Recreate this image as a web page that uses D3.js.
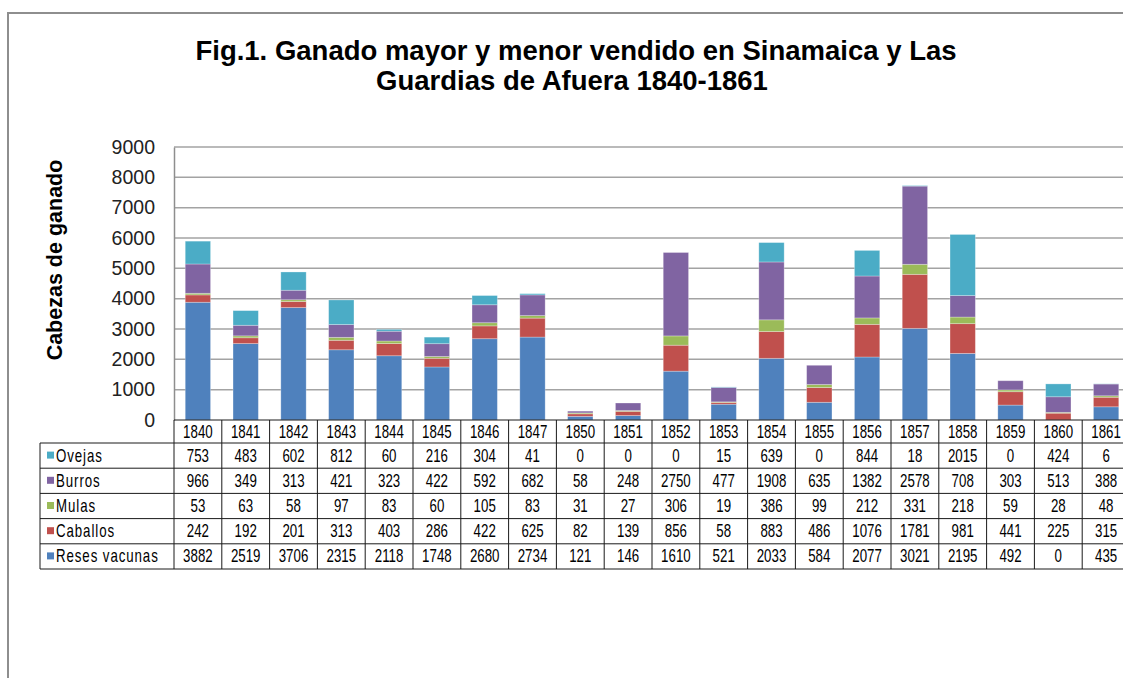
<!DOCTYPE html>
<html>
<head>
<meta charset="utf-8">
<style>
body { margin: 0; background: #fff; }
#chart { display: block; }
text { font-family: "Liberation Sans", Arial, sans-serif; }
</style>
</head>
<body>
<svg id="chart" width="1123" height="678"></svg>
<script src="https://cdn.jsdelivr.net/npm/d3@7"></script>
<script>
// data
const years = ["1840","1841","1842","1843","1844","1845","1846","1847","1850","1851","1852","1853","1854","1855","1856","1857","1858","1859","1860","1861"];
const reses    = [3882,2519,3706,2315,2118,1748,2680,2734,121,146,1610,521,2033,584,2077,3021,2195,492,0,435];
const caballos = [242,192,201,313,403,286,422,625,82,139,856,58,883,486,1076,1781,981,441,225,315];
const mulas    = [53,63,58,97,83,60,105,83,31,27,306,19,386,99,212,331,218,59,28,48];
const burros   = [966,349,313,421,323,422,592,682,58,248,2750,477,1908,635,1382,2578,708,303,513,388];
const ovejas   = [753,483,602,812,60,216,304,41,0,0,0,15,639,0,844,18,2015,0,424,6];
const yTicks = [0,1000,2000,3000,4000,5000,6000,7000,8000,9000];

const series = [
    {key: "reses", name: "Reses vacunas", values: reses, color: "#4f81bd"},
    {key: "caballos", name: "Caballos", values: caballos, color: "#c0504d"},
    {key: "mulas", name: "Mulas", values: mulas, color: "#9bbb59"},
    {key: "burros", name: "Burros", values: burros, color: "#8064a2"},
    {key: "ovejas", name: "Ovejas", values: ovejas, color: "#4bacc6"}
];

const svg = d3.select("#chart");
const plotLeft = 174, plotRight = 1130, plotTop = 147, plotBottom = 420;
const tableLeft = 40, headerH = 23, rowH = 25.2;
const cellFont = "17.5px", squeeze = 0.76;

// outer frame (top and left edges visible)
svg.append("path")
    .attr("d", "M8,678 V13 H1123")
    .style("fill", "none")
    .style("stroke", "#8e8e8e")
    .style("stroke-width", 2);

// title
const title = svg.append("text")
    .attr("x", 576)
    .attr("y", 60)
    .attr("text-anchor", "middle")
    .attr("font-size", "27.5px")
    .attr("font-weight", "bold");
title.append("tspan").attr("x", 576).text("Fig.1. Ganado mayor y menor vendido en Sinamaica y Las");
title.append("tspan").attr("x", 572).attr("dy", 30).text("Guardias de Afuera 1840-1861");

const x = d3.scaleBand()
    .domain(years)
    .range([plotLeft, plotRight])
    .paddingInner(0.47)
    .paddingOuter(0.235);

const y = d3.scaleLinear()
    .domain([0, 9000])
    .range([plotBottom, plotTop]);

// gridlines
svg.append("g")
    .selectAll("line")
    .data(yTicks.slice(1))
    .enter()
    .append("line")
    .attr("x1", plotLeft)
    .attr("x2", plotRight)
    .attr("y1", d => y(d))
    .attr("y2", d => y(d))
    .style("stroke", "#a3a3a3")
    .style("stroke-width", 1.5);

// y axis
const yAxis = svg.append("g")
    .attr("transform", `translate(${plotLeft},0)`)
    .call(d3.axisLeft(y).tickValues(yTicks).tickFormat(d3.format("d")).tickSize(0).tickPadding(19));
yAxis.select(".domain").style("stroke", "#8e8e8e").style("stroke-width", 1.5);
yAxis.selectAll("text")
    .attr("font-size", "19.5px")
    .attr("fill", "#222")
    .style("font-family", "\"Liberation Sans\", Arial, sans-serif");

svg.append("text")
    .attr("transform", "translate(62,260) rotate(-90)")
    .attr("text-anchor", "middle")
    .attr("font-size", "21.5px")
    .attr("font-weight", "bold")
    .text("Cabezas de ganado");

// stacked bars
const rows = years.map((yr, i) => {
    const r = {year: yr};
    series.forEach(s => r[s.key] = s.values[i]);
    return r;
});
const stacked = d3.stack().keys(series.map(s => s.key))(rows);

svg.append("g")
    .selectAll("g")
    .data(stacked)
    .enter()
    .append("g")
    .style("fill", (d, i) => series[i].color)
    .selectAll("rect")
    .data(d => d)
    .enter()
    .append("rect")
    .attr("x", d => x(d.data.year))
    .attr("width", x.bandwidth())
    .attr("y", d => y(d[1]))
    .attr("height", d => y(d[0]) - y(d[1]))
    .style("stroke", "#ffffff")
    .style("stroke-opacity", 0.35)
    .style("stroke-width", 0.8);

// data table
const step = x.step();
const colLeft = yr => x(yr) - x.paddingOuter() * step;
const tableRows = series.slice().reverse();
const tableTop = plotBottom;
const bodyTop = tableTop + headerH;
const tableBottom = bodyTop + rowH * tableRows.length;
const table = svg.append("g").style("stroke", "#1a1a1a").style("stroke-width", 1);

table.append("line").attr("x1", plotLeft).attr("x2", plotRight).attr("y1", tableTop).attr("y2", tableTop);
d3.range(tableRows.length + 1).forEach(i => {
    table.append("line")
        .attr("x1", tableLeft).attr("x2", plotRight)
        .attr("y1", bodyTop + i * rowH).attr("y2", bodyTop + i * rowH);
});
table.append("line").attr("x1", tableLeft).attr("x2", tableLeft).attr("y1", bodyTop).attr("y2", tableBottom);
years.forEach(yr => {
    table.append("line")
        .attr("x1", colLeft(yr)).attr("x2", colLeft(yr))
        .attr("y1", tableTop).attr("y2", tableBottom);
});
table.append("line").attr("x1", plotRight).attr("x2", plotRight).attr("y1", tableTop).attr("y2", tableBottom);

// header year labels (narrow, tall glyphs like the original)
svg.append("g")
    .selectAll("text")
    .data(years)
    .enter()
    .append("text")
    .attr("transform", d => `translate(${colLeft(d) + step / 2},${tableTop + headerH / 2 + 6}) scale(${squeeze},1)`)
    .attr("text-anchor", "middle")
    .attr("font-size", cellFont)
    .text(d => d);

// legend keys + row names + values
const rowG = svg.append("g")
    .selectAll("g")
    .data(tableRows)
    .enter()
    .append("g")
    .attr("transform", (d, i) => `translate(0,${bodyTop + i * rowH})`);

rowG.append("rect")
    .attr("x", 47)
    .attr("y", rowH / 2 - 4)
    .attr("width", 7)
    .attr("height", 7)
    .style("fill", d => d.color);

rowG.append("text")
    .attr("transform", `translate(56,${rowH / 2 + 6}) scale(${squeeze},1)`)
    .attr("font-size", cellFont)
    .attr("letter-spacing", "1.2px")
    .text(d => d.name);

rowG.selectAll(".val")
    .data(d => d.values)
    .enter()
    .append("text")
    .attr("class", "val")
    .attr("transform", (d, i) => `translate(${colLeft(years[i]) + step / 2},${rowH / 2 + 6}) scale(${squeeze},1)`)
    .attr("text-anchor", "middle")
    .attr("font-size", cellFont)
    .text(d => d);
</script>
</body>
</html>
